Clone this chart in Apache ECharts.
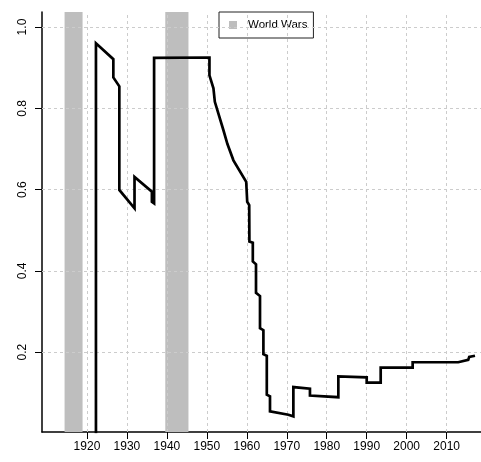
<!DOCTYPE html>
<html>
<head>
<meta charset="utf-8">
<script src="https://cdn.jsdelivr.net/npm/echarts@6/dist/echarts.min.js"></script>
<style>
html,body{margin:0;padding:0;background:#fff;}
#chart{width:481px;height:462px;}
</style>
</head>
<body>
<div id="chart"></div>
<script>
// ---- data ----
var years = [1922.25, 1922.25, 1926.6, 1926.6, 1928.1, 1928.1, 1931.9, 1931.9, 1936.25, 1936.25,
  1936.8, 1936.8, 1950.65, 1950.65, 1951.65, 1952.0, 1954.15, 1955.15, 1956.65, 1959.85,
  1960.1, 1960.6, 1960.65, 1961.5, 1961.5, 1962.3, 1962.3, 1963.3, 1963.3, 1964.15,
  1964.15, 1965.0, 1965.0, 1965.8, 1965.8, 1970.4, 1971.65, 1971.65, 1975.8, 1975.8,
  1982.9, 1982.9, 1990.0, 1990.0, 1993.5, 1993.5, 2001.5, 2001.5, 2012.9, 2013.15,
  2015.4, 2015.65, 2017.1];
var shares = [0, 0.96, 0.921, 0.876, 0.854, 0.599, 0.554, 0.631, 0.595, 0.570,
  0.566, 0.924, 0.925, 0.881, 0.849, 0.816, 0.746, 0.712, 0.672, 0.619,
  0.570, 0.562, 0.472, 0.469, 0.423, 0.416, 0.346, 0.338, 0.259, 0.254,
  0.195, 0.191, 0.095, 0.091, 0.054, 0.046, 0.042, 0.114, 0.110, 0.093,
  0.089, 0.140, 0.138, 0.125, 0.125, 0.162, 0.162, 0.175, 0.175, 0.179,
  0.181, 0.188, 0.191];
var warStart = [1914.4, 1939.6];
var warEnd = [1918.9, 1945.4];
var warLabel = 'World Wars';
var xTicks = [1920, 1930, 1940, 1950, 1960, 1970, 1980, 1990, 2000, 2010];
var yTicks = [0.2, 0.4, 0.6, 0.8, 1.0];

// ---- build chart ----
var lineData = years.map(function (y, i) { return [y, shares[i]]; });
var font = "'Liberation Sans', Arial, sans-serif";
var chart = echarts.init(document.getElementById('chart'), null, {renderer: 'canvas'});
var gridLines = xTicks.map(function (v) { return {xAxis: v}; })
  .concat(yTicks.map(function (v) { return {yAxis: v}; }));
var bands = warStart.map(function (s, i) { return [{xAxis: s}, {xAxis: warEnd[i]}]; });

chart.setOption({
  animation: false,
  backgroundColor: '#ffffff',
  textStyle: {fontFamily: font},
  grid: {left: 42, right: 0, top: 12, bottom: 30},
  legend: {
    left: 219, top: 12,
    padding: [7, 6, 7, 10],
    borderColor: '#222', borderWidth: 1,
    itemWidth: 8, itemHeight: 8,
    selectedMode: false,
    textStyle: {fontFamily: font, fontSize: 11.5, color: '#000', padding: [0, 0, 0, 6]},
    data: [{name: warLabel, icon: 'rect', itemStyle: {color: '#BEBEBE'}}]
  },
  xAxis: {
    type: 'value', min: 1908.75, max: 2018.6,
    splitLine: {show: false},
    axisLine: {show: true, onZero: false, lineStyle: {color: '#000', width: 1.5}},
    axisTick: {show: true, length: 7, customValues: xTicks, lineStyle: {color: '#000', width: 1}},
    axisLabel: {customValues: xTicks, margin: 9, fontSize: 12, color: '#000', fontFamily: font,
      formatter: function (v) { return String(v); }}
  },
  yAxis: {
    type: 'value', min: 0.0034, max: 1.037,
    splitLine: {show: false},
    axisLine: {show: true, onZero: false, lineStyle: {color: '#000', width: 1.5}},
    axisTick: {show: true, length: 7, customValues: yTicks, lineStyle: {color: '#000', width: 1}},
    axisLabel: {customValues: yTicks, rotate: 90, margin: 13, fontSize: 12, color: '#000', fontFamily: font,
      formatter: function (v) { return v.toFixed(1); }}
  },
  series: [
    {
      type: 'line', name: 'grid', data: [], z: 1, silent: true,
      markLine: {silent: true, symbol: ['none', 'none'], label: {show: false},
        lineStyle: {color: '#cccccc', type: [3, 3], width: 1},
        emphasis: {disabled: true},
        data: gridLines}
    },
    {
      type: 'line', name: warLabel, data: [], z: 2, silent: true,
      itemStyle: {color: '#BEBEBE'},
      markArea: {silent: true, itemStyle: {color: '#BEBEBE'}, emphasis: {disabled: true}, data: bands}
    },
    {
      type: 'line', name: 'share', data: lineData, z: 5, showSymbol: false, clip: true,
      lineStyle: {color: '#000', width: 2.7, join: 'miter'},
      itemStyle: {color: '#000'}
    }
  ]
});
</script>
</body>
</html>
